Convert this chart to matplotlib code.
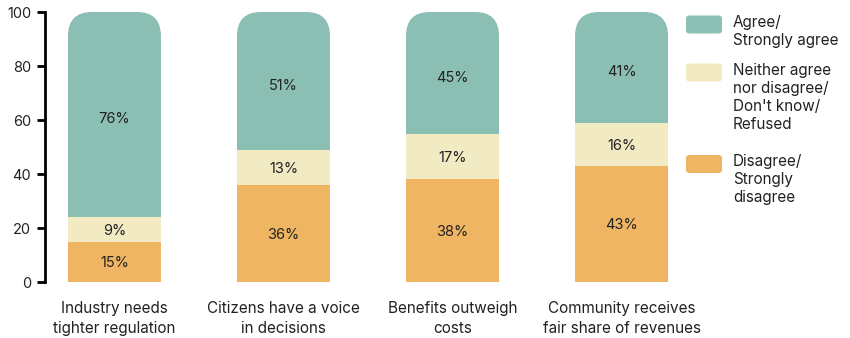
import numpy as np
import matplotlib
matplotlib.use("Agg")
from matplotlib import pyplot as plt
from matplotlib.patches import FancyBboxPatch

plt.rcParams['font.family'] = ['Inter', 'DejaVu Sans']

# data
categories = ["Industry needs\ntighter regulation", "Citizens have a voice\nin decisions",
              "Benefits outweigh\ncosts", "Community receives\nfair share of revenues"]
disagree = [15, 36, 38, 43]
neither = [9, 13, 17, 16]
agree = [76, 51, 45, 41]
legend_labels = ["Agree/\nStrongly agree", "Neither agree\nnor disagree/\nDon't know/\nRefused",
                 "Disagree/\nStrongly\ndisagree"]

c_agree = "#8bbfb3"
c_neither = "#f2eac2"
c_dis = "#f0b562"
txt = "#222222"

fig = plt.figure(figsize=(8.5, 3.38), dpi=100)
ax = fig.add_axes([45/850, 56/338, (680-45)/850, 270/338])

x = np.arange(len(categories))
w = 0.55
bottoms2 = np.array(disagree)
bottoms3 = bottoms2 + np.array(neither)
b1 = ax.bar(x, disagree, w, color=c_dis, linewidth=0)
b2 = ax.bar(x, neither, w, bottom=bottoms2, color=c_neither, linewidth=0)
b3 = ax.bar(x, agree, w, bottom=bottoms3, color=c_agree, linewidth=0)

ax.set_xlim(-0.411, 3.346)
ax.set_ylim(0, 100)

# rounded top via clip path
px_per_x = (680-45) / (3.346+0.411)
px_per_y = 270 / 100
r_px = 24
rx = r_px / px_per_x
aspect = (r_px / px_per_y) / rx
for i in range(len(x)):
    clip = FancyBboxPatch((x[i]-w/2, -30), w, 130,
                          boxstyle="round,pad=0,rounding_size=%f" % rx,
                          mutation_aspect=aspect, transform=ax.transData,
                          facecolor="none", edgecolor="none")
    ax.add_patch(clip)
    for bars in (b1, b2, b3):
        bars[i].set_clip_path(clip)

# value labels (top labels sit a bit lower, below the rounded part)
for bars, vals, bots, off in ((b1, disagree, np.zeros(4), -1), (b2, neither, bottoms2, -1),
                              (b3, agree, bottoms3, -3.5)):
    for i, v in enumerate(vals):
        ax.annotate("%d%%" % v, (x[i], bots[i] + v/2), xytext=(0, off),
                    textcoords="offset points", ha="center", va="center",
                    fontsize=10.5, color=txt)

for s in ("top", "right", "bottom"):
    ax.spines[s].set_visible(False)
ax.spines["left"].set_linewidth(2)
ax.spines["left"].set_color("black")
ax.set_yticks([0, 20, 40, 60, 80, 100])
ax.tick_params(axis="y", length=6, width=2, labelsize=10.5, labelcolor=txt, pad=4)
ax.set_xticks(x)
ax.set_xticklabels(categories, fontsize=11, color=txt, linespacing=1.4)
ax.tick_params(axis="x", length=0, pad=14)

# legend, drawn by hand
leg_y = [24.5, 72.5, 164]
leg_cols = [c_agree, c_neither, c_dis]
for yy, col, lab in zip(leg_y, leg_cols, legend_labels):
    p = FancyBboxPatch((686/850, (338-yy-9)/338), 36/850, 18/338,
                       boxstyle="round,pad=0,rounding_size=0.004",
                       mutation_aspect=850/338, transform=fig.transFigure,
                       facecolor=col, edgecolor="none")
    fig.patches.append(p)
    fig.text(733/850, (338-yy+9.5)/338, lab, ha="left", va="top", fontsize=11,
             color=txt, linespacing=1.25)

fig.savefig("out.png", dpi=100)
